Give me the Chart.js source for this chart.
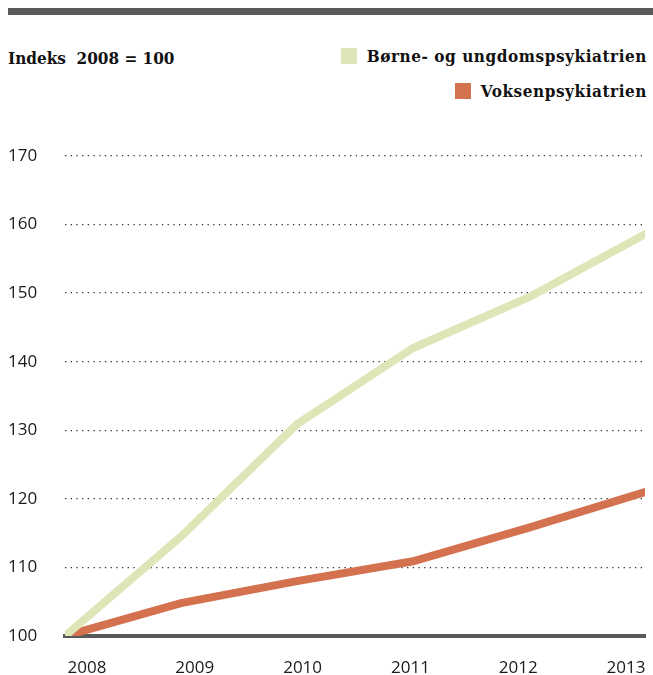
<!DOCTYPE html>
<html>
<head>
<meta charset="utf-8">
<script src="https://cdn.jsdelivr.net/npm/chart.js@4/dist/chart.umd.min.js"></script>
<style>
  body { margin: 0; background: #fff; }
  #wrap { position: relative; width: 653px; height: 675px; overflow: hidden; }
  #topbar { position: absolute; left: 8px; right: 0; top: 8px; height: 7px; background: #5a5a5a; }
  #title { position: absolute; left: 8px; top: 48px; font: bold 17px "DejaVu Serif Condensed", "DejaVu Serif", serif; color: #111; white-space: pre; }
  #legend { position: absolute; right: 6px; top: 46px; font: bold 17px "DejaVu Serif Condensed", "DejaVu Serif", serif; letter-spacing: 0.55px; color: #111; }
  .row { display: flex; justify-content: flex-end; align-items: center; height: 20px; margin-bottom: 15px; }
  .box { width: 16px; height: 16px; margin-right: 10px; }
  canvas { position: absolute; left: 0; top: 0; }
</style>
</head>
<body>
<div id="wrap">
  <div id="topbar"></div>
  <div id="title">Indeks  2008 = 100</div>
  <div id="legend"></div>
  <canvas id="lineChart" width="653" height="675"></canvas>
</div>
<script>
const years = [2008, 2009, 2010, 2011, 2012, 2013];
const childYouth = [100, 114.5, 130.9, 142.0, 149.4, 158.6]; // Børne- og ungdomspsykiatrien
const adults = [100, 104.8, 108.0, 110.9, 115.8, 121.0]; // Voksenpsykiatrien
const seriesNames = ["Børne- og ungdomspsykiatrien", "Voksenpsykiatrien"];
const seriesColors = ["#dde6b6", "#d4714f"];
const yTicks = [100, 110, 120, 130, 140, 150, 160, 170];

// legend as html rows, right aligned
const legend = document.getElementById("legend");
seriesNames.forEach(function (name, i) {
  const row = document.createElement("div");
  row.className = "row";
  row.innerHTML = '<span class="box" style="background:' + seriesColors[i] + '"></span><span>' + name + "</span>";
  legend.appendChild(row);
});

const ctx = document.getElementById("lineChart").getContext("2d");

new Chart(ctx, {
  type: "line",
  data: {
    datasets: [
      {
        label: seriesNames[0],
        data: years.map((y, i) => ({ x: y, y: childYouth[i] })),
        borderColor: seriesColors[0],
        borderWidth: 8,
        borderCapStyle: "round",
        pointRadius: 0,
        tension: 0,
        xAxisID: "x",
      },
      {
        label: seriesNames[1],
        data: years.map((y, i) => ({ x: y, y: adults[i] })),
        borderColor: seriesColors[1],
        borderWidth: 8,
        borderCapStyle: "round",
        pointRadius: 0,
        tension: 0,
        xAxisID: "x",
      },
    ],
  },
  options: {
    responsive: false,
    animation: false,
    layout: { padding: { top: 156, left: 8, right: 8, bottom: 0 } },
    plugins: {
      legend: { display: false },
      tooltip: { enabled: false },
    },
    scales: {
      x: {
        type: "linear",
        display: false,
        min: years[0],
        max: years[years.length - 1],
      },
      // label axis: year labels sit a bit inside the line ends
      x2: {
        type: "linear",
        position: "bottom",
        min: 2007.796,
        max: 2013.176,
        afterBuildTicks: function (axis) {
          axis.ticks = years.map((v) => ({ value: v }));
        },
        afterFit: function (axis) {
          axis.height = 39;
          axis.paddingLeft = 0;
          axis.paddingRight = 0;
        },
        grid: { display: false, drawTicks: false },
        border: { display: true, color: "#5a5a5a", width: 4 },
        ticks: {
          padding: 22,
          maxRotation: 0,
          autoSkip: false,
          color: "#1a1a1a",
          font: { family: "Open Sans", size: 17 },
          callback: (v) => String(v),
        },
      },
      y: {
        min: 100,
        max: 170,
        afterBuildTicks: function (axis) {
          axis.ticks = yTicks.map((v) => ({ value: v }));
        },
        afterFit: function (axis) {
          axis.width = 57;
        },
        grid: {
          drawTicks: false,
          color: "#333333",
          lineWidth: (c) => (c.tick && c.tick.value === 100 ? 0 : 1.3),
        },
        border: { display: false, dash: [1.3, 4.4] },
        ticks: {
          crossAlign: "far",
          color: "#1a1a1a",
          font: { family: "Open Sans", size: 17 },
        },
      },
    },
  },
});
</script>
</body>
</html>
